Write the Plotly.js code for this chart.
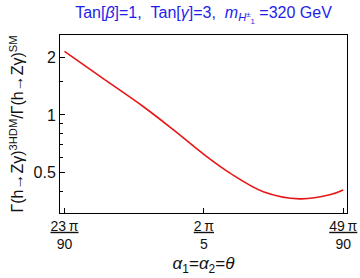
<!DOCTYPE html>
<html>
<head>
<meta charset="utf-8">
<script src="https://cdn.plot.ly/plotly-3.0.1.min.js"></script>
<style>html,body{margin:0;padding:0;background:#fff;}</style>
</head>
<body>
<div id="chart" style="width:360px;height:278px;"></div>
<script>
// theta in units of pi/90
const thetaPi90 = [23.0, 26.35, 30.4, 33.17, 36.27, 38.44, 41.54, 44.95, 47.74, 49.0];
const ratio     = [2.15, 1.585, 1.10, 0.835, 0.605, 0.496, 0.397, 0.364, 0.382, 0.405];
const xTickPi90 = [23, 36, 49];
const xTickNum  = ['23\u2009π', '2\u2009π', '49\u2009π'];
const xTickDen  = ['90', '5', '90'];
const yTickVals = [0.5, 1, 2];
const yTickText = ['0.5', '1', '2'];
const yMinorVals = [0.4, 0.6, 0.7, 0.8, 0.9, 1.5];

const toRad = n => n * Math.PI / 90;
const x = thetaPi90.map(toRad);

const trace = {
  x: x, y: ratio, type: 'scatter', mode: 'lines',
  line: {color: 'rgb(232,22,22)', width: 1.6, shape: 'spline', smoothing: 1.0},
  hoverinfo: 'none'
};

const sp = '\u00a0';
const layout = {
  width: 360, height: 278,
  margin: {l: 60, r: 12.5, t: 35, b: 65},
  paper_bgcolor: '#fff', plot_bgcolor: '#fff',
  showlegend: false,
  font: {family: 'Liberation Sans, Arial, sans-serif', color: '#111'},
  title: {
    text: 'Tan[<i>β</i>]=1,' + sp + sp + 'Tan[<i>γ</i>]=3,' + sp + sp + '<i>m</i><sub><i>H</i><sup>±</sup><sub>1</sub></sub>' + sp + '=320 GeV',
    font: {size: 16, color: 'rgb(30,30,235)'},
    x: 0.5, xref: 'paper', xanchor: 'center', y: 0.955, yref: 'container', yanchor: 'middle'
  },
  xaxis: {
    range: [toRad(22.58), toRad(49.35)],
    tickmode: 'array',
    tickvals: xTickPi90.map(toRad),
    ticktext: xTickNum.map((t, i) => '<span style="text-decoration:underline">' + t + '</span><br>' + xTickDen[i]),
    ticks: 'inside', ticklen: 5, tickcolor: '#000', tickwidth: 1,
    tickfont: {size: 14, color: '#111'},
    showline: true, linecolor: '#000', linewidth: 1, mirror: true,
    showgrid: false, zeroline: false,
    title: {text: '<i>α</i><sub>1</sub>=<i>α</i><sub>2</sub>=<i>θ</i>', font: {size: 17, color: '#111'}, standoff: 6}
  },
  yaxis: {
    type: 'log',
    range: [Math.log10(0.307), Math.log10(2.617)],
    tickmode: 'array', tickvals: yTickVals, ticktext: yTickText,
    ticks: 'inside', ticklen: 5, tickcolor: '#000', tickwidth: 1,
    tickfont: {size: 16, color: '#111'},
    minor: {tickmode: 'array', tickvals: yMinorVals, ticks: 'inside', ticklen: 3, tickcolor: '#000', showgrid: false},
    showline: true, linecolor: '#000', linewidth: 1, mirror: true,
    showgrid: false, zeroline: false,
    title: {text: 'Γ(h→Zγ)<sup>3HDM</sup>/Γ(h→Zγ)<sup>SM</sup>', font: {size: 16, color: '#111'}, standoff: 5}
  }
};

Plotly.newPlot('chart', [trace], layout, {staticPlot: true, displayModeBar: false});
</script>
</body>
</html>
